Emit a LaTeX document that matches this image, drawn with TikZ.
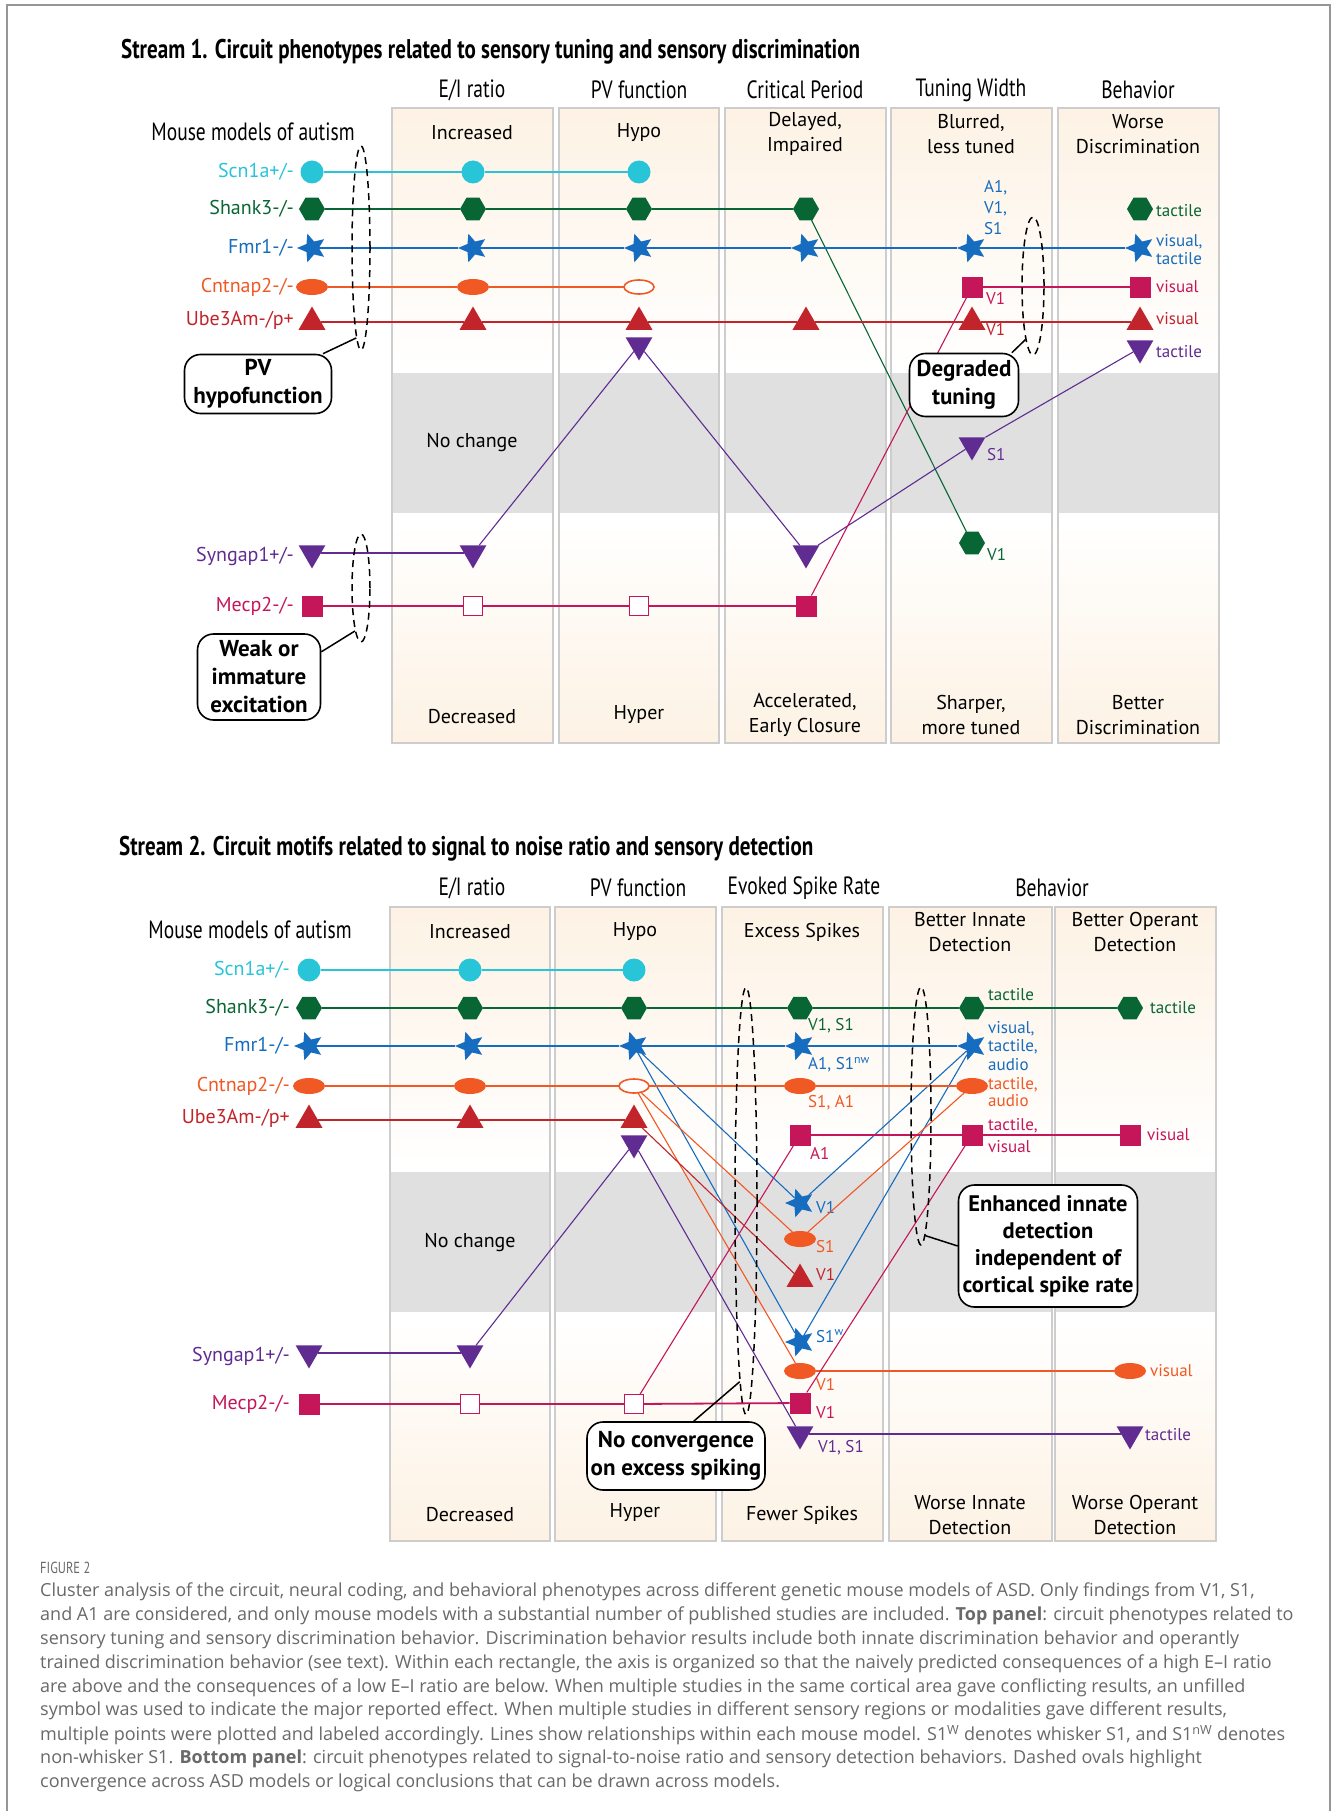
\documentclass[tikz,border=0pt]{standalone}
\usepackage{fontspec}
\setmainfont{PT Sans}
\newfontfamily\condfont[FakeStretch=0.78]{PT Sans}
\newfontfamily\capfont{Open Sans}
\usetikzlibrary{shapes.geometric,positioning}

\definecolor{cyanS}{RGB}{40,196,216}
\definecolor{greenS}{RGB}{8,102,52}
\definecolor{blueF}{RGB}{22,108,190}
\definecolor{orangeC}{RGB}{240,88,36}
\definecolor{redU}{RGB}{194,36,44}
\definecolor{purpG}{RGB}{96,44,146}
\definecolor{magM}{RGB}{198,22,90}
\definecolor{beige}{RGB}{253,242,228}
\definecolor{band}{RGB}{224,224,224}
\definecolor{frameg}{RGB}{205,205,205}
\definecolor{outerg}{RGB}{150,150,150}
\definecolor{capg}{RGB}{105,105,105}

\tikzset{
  mk/.style={inner sep=0pt, outer sep=0pt},
  disc/.style={mk, circle, fill=#1, minimum size=23pt},
  hexa/.style={mk, regular polygon, regular polygon sides=6, fill=#1, minimum size=26pt},
  stella/.style={mk, star, star points=5, star point ratio=2.2, shape border rotate=90, fill=#1, minimum size=30pt},
  tri/.style={mk, regular polygon, regular polygon sides=3, fill=#1, minimum size=31pt},
  dtri/.style={tri=#1, shape border rotate=180},
  sq/.style={mk, rectangle, fill=#1, minimum size=21pt},
  osq/.style={mk, rectangle, draw=#1, fill=white, line width=1.6pt, minimum size=19pt},
  ell/.style={mk, ellipse, fill=#1, minimum width=32pt, minimum height=16pt},
  oell/.style={mk, ellipse, draw=#1, fill=white, line width=1.6pt, minimum width=30pt, minimum height=14pt},
  thk/.style={line width=1.8pt},
  thn/.style={line width=1.1pt},
  row/.style={anchor=east, inner sep=0pt, font=\fontsize{20}{22}\selectfont},
  tag/.style={anchor=west, inner sep=0pt, align=left, font=\fontsize{17}{19}\selectfont},
  boxtxt/.style={align=center, inner sep=0pt, font=\fontsize{20}{25}\selectfont},
  head/.style={inner sep=0pt, font=\condfont\fontsize{25}{28}\selectfont},
  ttl/.style={anchor=west, inner sep=0pt, font=\condfont\bfseries\fontsize{27}{30}\selectfont},
  cbox/.style={draw, fill=white, line width=1.6pt, rounded corners=16pt, align=center, inner sep=0pt, font=\bfseries\fontsize{23}{28}\selectfont},
  ovaldash/.style={draw, ellipse, inner sep=0pt, line width=1.5pt, dash pattern=on 7pt off 5pt},
  capt/.style={anchor=west, inner sep=0pt, text=capg, font=\capfont\fontsize{18}{21}\selectfont},
}

\begin{document}
\begin{tikzpicture}[x=1pt, y=-1pt]
    %边框
    \useasboundingbox (0,0) rectangle (1332,1811);
    \fill[white] (0,0) rectangle (1332,1811);
    \draw[outerg, line width=1.5pt] (7,1811) -- (7,5) -- (1330,5) -- (1330,1811);

    %上图: 列框
    \foreach \xa/\xb in {392/553,559/719,725/886,891/1052,1058/1219}{
        \shade[top color=beige, bottom color=white] (\xa,108) rectangle (\xb,368);
        \fill[band] (\xa,373) rectangle (\xb,513);
        \shade[top color=white, bottom color=beige] (\xa,522) rectangle (\xb,743);
        \draw[frameg, line width=1.2pt] (\xa,108) rectangle (\xb,743);
    }
    \node[ttl] (ti1) at (121,52) {Stream 1. Circuit phenotypes related to sensory tuning and sensory discrimination};
    \node[head] (mm1) at (253,132) {Mouse models of autism};
    \node[head] (hA1) at (472,90) {E/I ratio};
    \node[head] (hA2) at (639,90) {PV function};
    \node[head] (hA3) at (805,90) {Critical Period};
    \node[head] (hA4) at (971,90) {Tuning Width};
    \node[head] (hA5) at (1138,90) {Behavior};
    \node[boxtxt] (tA1) at (472,133) {Increased};
    \node[boxtxt] (tA2) at (639,133) {Hypo};
    \node[boxtxt] (tA3) at (805,134) {Delayed,\\Impaired};
    \node[boxtxt] (tA4) at (971,134) {Blurred,\\less tuned};
    \node[boxtxt] (tA5) at (1138,134) {Worse\\Discrimination};
    \node[boxtxt] (nA) at (472,443) {No change};
    \node[boxtxt] (bA1) at (472,717) {Decreased};
    \node[boxtxt] (bA2) at (639,715) {Hyper};
    \node[boxtxt] (bA3) at (805,715) {Accelerated,\\Early Closure};
    \node[boxtxt] (bA4) at (971,715) {Sharper,\\more tuned};
    \node[boxtxt] (bA5) at (1138,715) {Better\\Discrimination};

    %上图: 各模型
    \node[row, text=cyanS] (ls) at (294,172) {Scn1a+/-};
    \node[row, text=greenS] (lh) at (294,209) {Shank3-/-};
    \node[row, text=blueF] (lf) at (294,248) {Fmr1-/-};
    \node[row, text=orangeC] (lc) at (294,287) {Cntnap2-/-};
    \node[row, text=redU] (lu) at (294,320) {Ube3Am-/p+};
    \node[row, text=purpG] (lg) at (294,556) {Syngap1+/-};
    \node[row, text=magM] (lm) at (294,606) {Mecp2-/-};

    \node[disc=cyanS] (s0) at (312,172) {};
    \node[disc=cyanS] (s1) at (473,172) {};
    \node[disc=cyanS] (s2) at (639,172) {};
    \node[hexa=greenS] (h0) at (312,209) {};
    \node[hexa=greenS] (h1) at (473,209) {};
    \node[hexa=greenS] (h2) at (639,209) {};
    \node[hexa=greenS] (h3) at (806,209) {};
    \node[hexa=greenS] (h4) at (972,543) {};
    \node[hexa=greenS] (h5) at (1140,209) {};
    \node[stella=blueF] (f0) at (312,248) {};
    \node[stella=blueF] (f1) at (473,248) {};
    \node[stella=blueF] (f2) at (639,248) {};
    \node[stella=blueF] (f3) at (806,248) {};
    \node[stella=blueF] (f4) at (972,248) {};
    \node[stella=blueF] (f5) at (1140,248) {};
    \node[ell=orangeC] (c0) at (312,287) {};
    \node[ell=orangeC] (c1) at (473,287) {};
    \node[oell=orangeC] (c2) at (639,287) {};
    \node[tri=redU] (u0) at (312,322) {};
    \node[tri=redU] (u1) at (473,322) {};
    \node[tri=redU] (u2) at (639,322) {};
    \node[tri=redU] (u3) at (806,322) {};
    \node[tri=redU] (u4) at (972,322) {};
    \node[tri=redU] (u5) at (1140,322) {};
    \node[dtri=purpG] (g0) at (312,553) {};
    \node[dtri=purpG] (g1) at (473,553) {};
    \node[dtri=purpG] (g2) at (639,345) {};
    \node[dtri=purpG] (g3) at (806,553) {};
    \node[dtri=purpG] (g4) at (972,445) {};
    \node[dtri=purpG] (g5) at (1140,348) {};
    \node[sq=magM] (m0) at (312,606) {};
    \node[osq=magM] (m1) at (473,606) {};
    \node[osq=magM] (m2) at (639,606) {};
    \node[sq=magM] (m3) at (806,606) {};
    \node[sq=magM] (m4) at (972,287) {};
    \node[sq=magM] (m5) at (1140,287) {};

    \node[tag, text=blueF, font=\fontsize{17}{21}\selectfont] (tf4) at (984,208) {A1,\\V1,\\S1};
    \node[tag, text=magM] (tm4) at (986,299) {V1};
    \node[tag, text=redU] (tu4) at (986,330) {V1};
    \node[tag, text=purpG] (tg4) at (987,455) {S1};
    \node[tag, text=greenS] (th4) at (987,555) {V1};
    \node[tag, text=greenS] (th5) at (1156,211) {tactile};
    \node[tag, text=blueF, font=\fontsize{17}{18}\selectfont] (tf5) at (1156,250) {visual,\\tactile};
    \node[tag, text=magM] (tm5) at (1156,287) {visual};
    \node[tag, text=redU] (tu5) at (1156,319) {visual};
    \node[tag, text=purpG] (tg5) at (1156,352) {tactile};

    \draw[thk, cyanS] (s0) -- (s1) -- (s2);
    \draw[thk, greenS] (h0) -- (h1) -- (h2) -- (h3);
    \draw[thn, greenS] (h3) -- (h4);
    \draw[thk, blueF] (f0) -- (f1) -- (f2) -- (f3) -- (f4) -- (f5);
    \draw[thk, orangeC] (c0) -- (c1) -- (c2);
    \draw[thk, redU] (u0) -- (u1) -- (u2) -- (u3) -- (u4) -- (u5);
    \draw[thk, purpG] (g0) -- (g1);
    \draw[thn, purpG] (g1) -- (g2) -- (g3) -- (g4) -- (g5);
    \draw[thk, magM] (m0) -- (m1) -- (m2) -- (m3);
    \draw[thn, magM] (m3) -- (m4);
    \draw[thk, magM] (m4) -- (m5);

    \node[ovaldash, minimum width=18pt, minimum height=204pt] (ovPV) at (361,248) {};
    \node[ovaldash, minimum width=22pt, minimum height=138pt] (ovDT) at (1033,286) {};
    \node[ovaldash, minimum width=18pt, minimum height=108pt] (ovWI) at (361,588) {};
    \node[cbox, minimum width=147pt, minimum height=59pt] (calPV) at (258,384) {PV\\hypofunction};
    \node[cbox, minimum width=109pt, minimum height=63pt] (calDT) at (964,385) {Degraded\\tuning};
    \node[cbox, minimum width=123pt, minimum height=86pt] (calWI) at (259,677) {Weak or\\immature\\excitation};
    \draw[line width=1.5pt] (ovPV.-93) -- (calPV.25);
    \draw[line width=1.5pt] (ovDT.-98) -- (calDT.34);
    \draw[line width=1.5pt] (ovWI.-98) -- (calWI.22);

    %下图: 列框
    \foreach \xa/\xb in {390/550,555/716,722/883,889/1052,1055/1216}{
        \shade[top color=beige, bottom color=white] (\xa,907) rectangle (\xb,1167);
        \fill[band] (\xa,1172) rectangle (\xb,1312);
        \shade[top color=white, bottom color=beige] (\xa,1319) rectangle (\xb,1541);
        \draw[frameg, line width=1.2pt] (\xa,907) rectangle (\xb,1541);
    }
    \node[ttl] (ti2) at (119,849) {Stream 2. Circuit motifs related to signal to noise ratio and sensory detection};
    \node[head] (mm2) at (250,930) {Mouse models of autism};
    \node[head] (hB1) at (472,888) {E/I ratio};
    \node[head] (hB2) at (638,888) {PV function};
    \node[head] (hB3) at (804,888) {Evoked Spike Rate};
    \node[head] (hB4) at (1052,888) {Behavior};
    \node[boxtxt] (tB1) at (470,932) {Increased};
    \node[boxtxt] (tB2) at (635,932) {Hypo};
    \node[boxtxt] (tB3) at (802,932) {Excess Spikes};
    \node[boxtxt] (tB4) at (970,932) {Better Innate\\Detection};
    \node[boxtxt] (tB5) at (1135,932) {Better Operant\\Detection};
    \node[boxtxt] (nB) at (470,1242) {No change};
    \node[boxtxt] (bB1) at (470,1515) {Decreased};
    \node[boxtxt] (bB2) at (635,1513) {Hyper};
    \node[boxtxt] (bB3) at (802,1515) {Fewer Spikes};
    \node[boxtxt] (bB4) at (970,1515) {Worse Innate\\Detection};
    \node[boxtxt] (bB5) at (1135,1515) {Worse Operant\\Detection};

    %下图: 各模型
    \node[row, text=cyanS] (LS) at (290,970) {Scn1a+/-};
    \node[row, text=greenS] (LH) at (290,1008) {Shank3-/-};
    \node[row, text=blueF] (LF) at (290,1046) {Fmr1-/-};
    \node[row, text=orangeC] (LC) at (290,1086) {Cntnap2-/-};
    \node[row, text=redU] (LU) at (290,1118) {Ube3Am-/p+};
    \node[row, text=purpG] (LG) at (290,1356) {Syngap1+/-};
    \node[row, text=magM] (LM) at (290,1404) {Mecp2-/-};

    \node[disc=cyanS] (S0) at (309,970) {};
    \node[disc=cyanS] (S1) at (470,970) {};
    \node[disc=cyanS] (S2) at (634,970) {};
    \node[hexa=greenS] (H0) at (309,1008) {};
    \node[hexa=greenS] (H1) at (470,1008) {};
    \node[hexa=greenS] (H2) at (634,1008) {};
    \node[hexa=greenS] (H3) at (800,1008) {};
    \node[hexa=greenS] (H4) at (972,1008) {};
    \node[hexa=greenS] (H5) at (1130,1008) {};
    \node[stella=blueF] (F0) at (309,1046) {};
    \node[stella=blueF] (F1) at (470,1046) {};
    \node[stella=blueF] (F2) at (634,1046) {};
    \node[stella=blueF] (F3) at (800,1046) {};
    \node[stella=blueF] (F4) at (972,1046) {};
    \node[stella=blueF] (Fv) at (800,1203) {};
    \node[stella=blueF] (Fw) at (800,1342) {};
    \node[ell=orangeC] (C0) at (309,1086) {};
    \node[ell=orangeC] (C1) at (470,1086) {};
    \node[oell=orangeC] (C2) at (634,1086) {};
    \node[ell=orangeC] (C3) at (800,1086) {};
    \node[ell=orangeC] (C4) at (972,1086) {};
    \node[ell=orangeC] (Cs) at (800,1239) {};
    \node[ell=orangeC] (Cv) at (800,1371) {};
    \node[ell=orangeC] (C5) at (1130,1371) {};
    \node[tri=redU] (U0) at (309,1120) {};
    \node[tri=redU] (U1) at (470,1120) {};
    \node[tri=redU] (U2) at (634,1120) {};
    \node[tri=redU] (Uv) at (800,1279) {};
    \node[sq=magM] (Ma) at (800,1135) {};
    \node[sq=magM] (M4) at (972,1135) {};
    \node[sq=magM] (M5) at (1130,1135) {};
    \node[sq=magM] (M0) at (309,1404) {};
    \node[osq=magM] (M1) at (470,1404) {};
    \node[osq=magM] (M2) at (634,1404) {};
    \node[sq=magM] (Mv) at (800,1403) {};
    \node[dtri=purpG] (G0) at (309,1353) {};
    \node[dtri=purpG] (G1) at (470,1353) {};
    \node[dtri=purpG] (G2) at (634,1143) {};
    \node[dtri=purpG] (G3) at (800,1434) {};
    \node[dtri=purpG] (G4) at (1130,1434) {};

    \node[tag, text=greenS] (tH3) at (808,1026) {V1, S1};
    \node[tag, text=blueF] (tF3) at (808,1065) {A1, S1\textsuperscript{nw}};
    \node[tag, text=orangeC] (tC3) at (808,1103) {S1, A1};
    \node[tag, text=magM] (tMa) at (810,1153) {A1};
    \node[tag, text=blueF] (tFv) at (816,1208) {V1};
    \node[tag, text=orangeC] (tCs) at (816,1247) {S1};
    \node[tag, text=redU] (tUv) at (816,1275) {V1};
    \node[tag, text=blueF] (tFw) at (816,1336) {S1\textsuperscript{w}};
    \node[tag, text=orangeC] (tCv) at (816,1385) {V1};
    \node[tag, text=magM] (tMv) at (816,1413) {V1};
    \node[tag, text=purpG] (tG3) at (818,1448) {V1, S1};
    \node[tag, text=greenS] (tH4) at (988,995) {tactile};
    \node[tag, text=blueF, font=\fontsize{17}{18.5}\selectfont] (tF4) at (988,1046) {visual,\\tactile,\\audio};
    \node[tag, text=orangeC, font=\fontsize{17}{16.5}\selectfont] (tC4) at (988,1092) {tactile,\\audio};
    \node[tag, text=magM, font=\fontsize{17}{22}\selectfont] (tM4) at (988,1136) {tactile,\\visual};
    \node[tag, text=greenS] (tH5) at (1150,1008) {tactile};
    \node[tag, text=magM] (tM5) at (1147,1135) {visual};
    \node[tag, text=orangeC] (tC5) at (1150,1371) {visual};
    \node[tag, text=purpG] (tG4) at (1145,1435) {tactile};

    \draw[thk, cyanS] (S0) -- (S1) -- (S2);
    \draw[thk, greenS] (H0) -- (H1) -- (H2) -- (H3) -- (H4) -- (H5);
    \draw[thk, blueF] (F0) -- (F1) -- (F2) -- (F3) -- (F4);
    \draw[thn, blueF] (F2) -- (Fv) -- (F4);
    \draw[thn, blueF] (F2) -- (Fw) -- (F4);
    \draw[thk, orangeC] (C0) -- (C1) -- (C2) -- (C3) -- (C4);
    \draw[thn, orangeC] (C2) -- (Cs) -- (C4);
    \draw[thn, orangeC] (C2) -- (Cv);
    \draw[thk, orangeC] (Cv) -- (C5);
    \draw[thk, redU] (U0) -- (U1) -- (U2);
    \draw[thn, redU] (U2) -- (Uv);
    \draw[thk, magM] (M0) -- (M1) -- (M2) -- (Mv);
    \draw[thn, magM] (M2) -- (Ma);
    \draw[thk, magM] (Ma) -- (M4) -- (M5);
    \draw[thn, magM] (Mv) -- (M4);
    \draw[thk, purpG] (G0) -- (G1);
    \draw[thn, purpG] (G1) -- (G2) -- (G3);
    \draw[thk, purpG] (G3) -- (G4);

    \node[ovaldash, minimum width=22pt, minimum height=427pt] (ovNC) at (746,1201) {};
    \node[ovaldash, minimum width=20pt, minimum height=258pt] (ovEI) at (921,1116) {};
    \node[cbox, minimum width=178pt, minimum height=68pt] (calNC) at (676,1456) {No convergence\\on excess spiking};
    \node[cbox, minimum width=179pt, minimum height=122pt, font=\bfseries\fontsize{22.5}{27}\selectfont] (calEI) at (1048,1246) {Enhanced innate\\detection\\independent of\\cortical spike rate};
    \draw[line width=1.5pt] (ovNC.-92) -- (calNC.63);
    \draw[line width=1.5pt] (ovEI.-88) -- (calEI.west);

    %图注
    \node[capt, font=\condfont\fontsize{16}{19}\selectfont] (fig) at (40,1568) {FIGURE 2};
    \foreach \t [count=\i] in {
        {Cluster analysis of the circuit, neural coding, and behavioral phenotypes across different genetic mouse models of ASD. Only findings from V1, S1,},
        {and A1 are considered, and only mouse models with a substantial number of published studies are included. \textbf{Top panel}: circuit phenotypes related to},
        {sensory tuning and sensory discrimination behavior. Discrimination behavior results include both innate discrimination behavior and operantly},
        {trained discrimination behavior (see text). Within each rectangle, the axis is organized so that the naively predicted consequences of a high E–I ratio},
        {are above and the consequences of a low E–I ratio are below. When multiple studies in the same cortical area gave conflicting results, an unfilled},
        {symbol was used to indicate the major reported effect. When multiple studies in different sensory regions or modalities gave different results,},
        {multiple points were plotted and labeled accordingly. Lines show relationships within each mouse model. S1\textsuperscript{W} denotes whisker S1, and S1\textsuperscript{nW} denotes},
        {non-whisker S1. \textbf{Bottom panel}: circuit phenotypes related to signal-to-noise ratio and sensory detection behaviors. Dashed ovals highlight},
        {convergence across ASD models or logical conclusions that can be drawn across models.}}
        \node[capt] (cap\i) at (40,{1592+23.85*(\i-1)}) {\t};
\end{tikzpicture}
\end{document}
